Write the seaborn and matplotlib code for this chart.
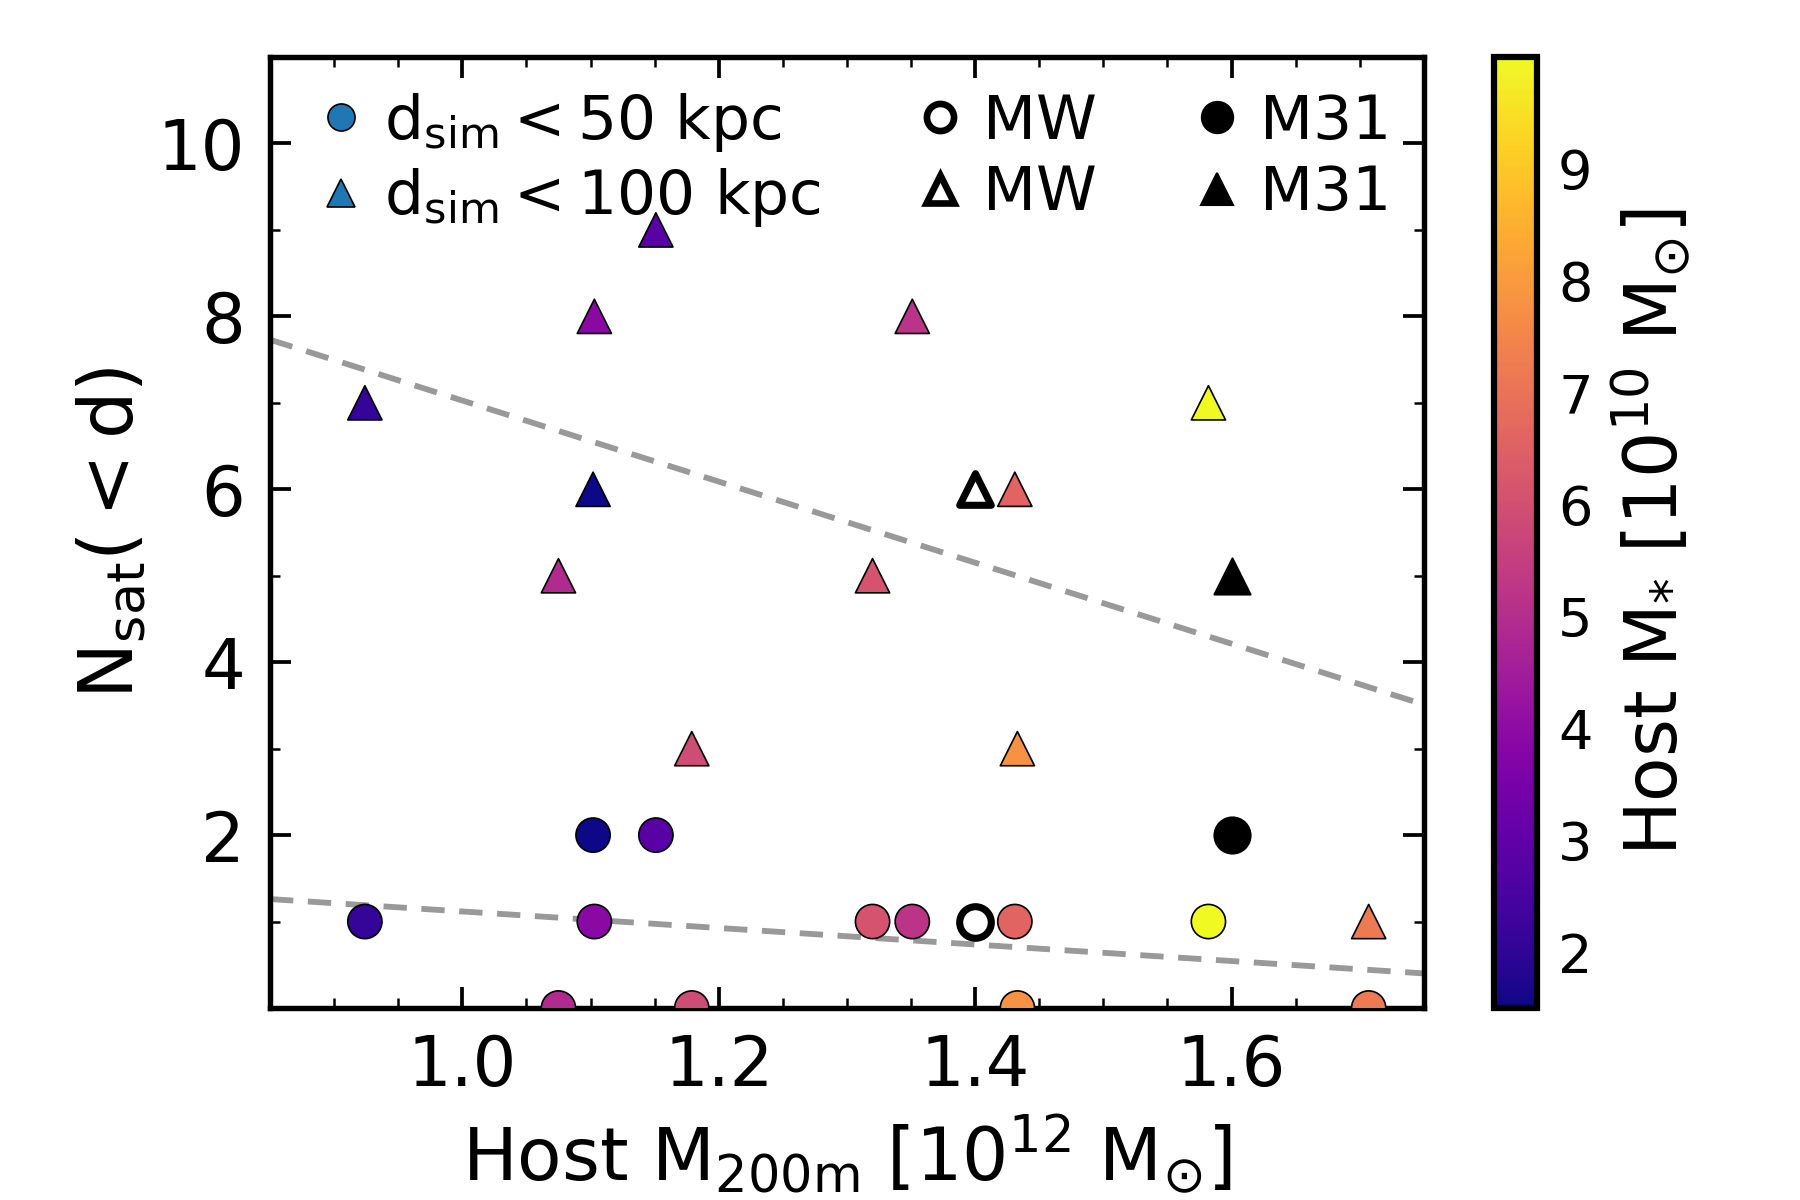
import numpy as np
import pandas as pd
import seaborn as sns
import matplotlib.pyplot as plt
from matplotlib.lines import Line2D
from matplotlib.ticker import MultipleLocator
import matplotlib as mpl

# simulated hosts: halo mass [1e12 Msun], stellar mass [1e10 Msun]
host_m200m = [0.924, 1.102, 1.151, 1.103, 1.075, 1.179, 1.320, 1.351, 1.431, 1.433, 1.582, 1.707]
host_mstar = [2.1, 1.5, 2.8, 3.9, 4.9, 5.9, 6.1, 5.2, 6.6, 7.8, 10.0, 7.2]
nsat_50 = [1, 2, 2, 1, 0, 0, 1, 1, 1, 0, 1, 0]
nsat_100 = [7, 6, 9, 8, 5, 3, 5, 8, 6, 3, 7, 1]

# observed
mw_m200m, mw_n50, mw_n100 = 1.4, 1, 6
m31_m200m, m31_n50, m31_n100 = 1.6, 2, 5

# fit lines
fit_x = [0.85, 1.75]
fit_100 = [7.73, 3.51]
fit_50 = [1.26, 0.40]


def main():
    sns.set_style("ticks", {'text.color': 'k', 'axes.edgecolor': 'k', 'axes.labelcolor': 'k',
                            'xtick.color': 'k', 'ytick.color': 'k'})
    plt.rcParams['font.family'] = ['DejaVu Sans']
    plt.rcParams['mathtext.default'] = 'regular'
    plt.rcParams['axes.linewidth'] = 2.6

    df = pd.DataFrame({
        "m200m": host_m200m * 2,
        "nsat": nsat_50 + nsat_100,
        "mstar": host_mstar * 2,
        "d": ["50"] * len(nsat_50) + ["100"] * len(nsat_100),
    })
    vmin, vmax = min(host_mstar), max(host_mstar)

    fig = plt.figure(figsize=(12, 8), dpi=150)
    ax = fig.add_axes([0.150, 0.16, 0.641, 0.7925])
    cax = fig.add_axes([0.830, 0.16, 0.024, 0.7925])

    ax.plot(fit_x, fit_100, ls='--', color='#999999', lw=2.8, dashes=(4, 2.5), zorder=1)
    ax.plot(fit_x, fit_50, ls='--', color='#999999', lw=2.8, dashes=(4, 2.5), zorder=1)

    sns.scatterplot(data=df, x="m200m", y="nsat", hue="mstar", palette="plasma",
                    hue_norm=(vmin, vmax), style="d", markers={"50": "o", "100": "^"},
                    s=270, edgecolor='k', linewidth=0.8, legend=False, ax=ax, zorder=3)

    ax.scatter([mw_m200m], [mw_n50], marker='o', s=230, facecolor='white', edgecolor='k', linewidth=3.4, zorder=4)
    ax.scatter([mw_m200m], [mw_n100], marker='^', s=230, facecolor='white', edgecolor='k', linewidth=3.4, zorder=4)
    ax.scatter([m31_m200m], [m31_n50], marker='o', s=300, color='k', zorder=4)
    ax.scatter([m31_m200m], [m31_n100], marker='^', s=300, color='k', zorder=4)

    ax.set_xlim(0.85, 1.75)
    ax.set_ylim(0, 11)
    ax.set_yticks([2, 4, 6, 8, 10])
    ax.xaxis.set_major_locator(MultipleLocator(0.2))
    ax.xaxis.set_minor_locator(MultipleLocator(0.05))
    ax.yaxis.set_minor_locator(MultipleLocator(1))
    ax.tick_params(which='both', direction='in', top=True, right=True, width=1.8)
    ax.tick_params(which='major', length=10, labelsize=33, pad=12)
    ax.tick_params(which='minor', length=5, width=1.2)

    ax.set_xlabel(r'Host $M_{200m}$ [$10^{12}$ $M_{\odot}$]', fontsize=35, labelpad=6)
    ax.set_ylabel(r'$N_{sat}( < d)$', fontsize=36, labelpad=4)

    handles = [
        Line2D([], [], ls='', marker='o', ms=13, mfc='tab:blue', mec='k', mew=0.8),
        Line2D([], [], ls='', marker='^', ms=13, mfc='tab:blue', mec='k', mew=0.8),
        Line2D([], [], ls='', marker='o', ms=13, mfc='white', mec='k', mew=3.2),
        Line2D([], [], ls='', marker='^', ms=13, mfc='white', mec='k', mew=3.2),
        Line2D([], [], ls='', marker='o', ms=15, mfc='k', mec='k'),
        Line2D([], [], ls='', marker='^', ms=15, mfc='k', mec='k'),
    ]
    labels = [r'$d_{sim} < 50$ kpc', r'$d_{sim} < 100$ kpc', 'MW', 'MW', 'M31', 'M31']
    ax.legend(handles, labels, ncol=3, loc='upper left', frameon=False, fontsize=29.5,
              handletextpad=0.1, columnspacing=1.35, labelspacing=0.2,
              borderaxespad=0.15, handlelength=1.2)

    sm = mpl.cm.ScalarMappable(norm=mpl.colors.Normalize(vmin, vmax), cmap='plasma')
    cb = fig.colorbar(sm, cax=cax)
    cb.outline.set_linewidth(3)
    cb.set_ticks([2, 3, 4, 5, 6, 7, 8, 9])
    cb.ax.yaxis.set_minor_locator(MultipleLocator(0.2))
    cb.ax.tick_params(which='both', direction='in', width=1.5, labelsize=26, pad=10)
    cb.ax.tick_params(which='major', length=9)
    cb.ax.tick_params(which='minor', length=4.5)
    cb.set_label(r'Host $M_{*}$ [$10^{10}$ $M_{\odot}$]', fontsize=35, labelpad=8)

    fig.savefig("out.png", dpi=150)


if __name__ == '__main__':
    main()
